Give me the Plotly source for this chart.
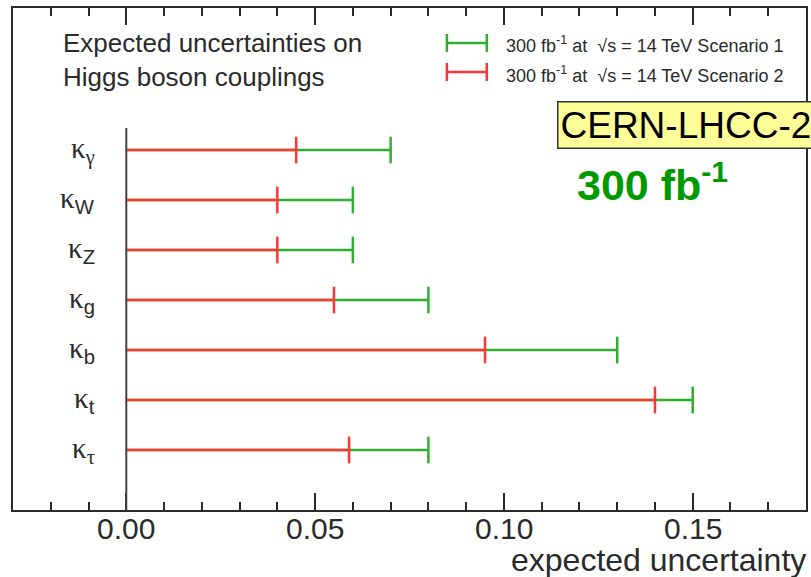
import plotly.graph_objects as go

# Higgs couplings (top to bottom) and their expected relative uncertainties
couplings = ["gamma", "W", "Z", "g", "b", "t", "tau"]
coupling_labels = [
    "κ<sub>γ</sub>",
    "κ<sub><span style='font-family:Liberation Sans'>W</span></sub>",
    "κ<sub><span style='font-family:Liberation Sans'>Z</span></sub>",
    "κ<sub><span style='font-family:Liberation Sans'>g</span></sub>",
    "κ<sub><span style='font-family:Liberation Sans'>b</span></sub>",
    "κ<sub><span style='font-family:Liberation Sans'>t</span></sub>",
    "κ<sub>τ</sub>",
]
scenario1 = [0.070, 0.060, 0.060, 0.080, 0.130, 0.150, 0.080]
scenario2 = [0.045, 0.040, 0.040, 0.055, 0.095, 0.140, 0.059]

x_ticks = [0.00, 0.05, 0.10, 0.15]
x_minor_step = 0.01
legend_texts = [
    "300 fb<sup>-1</sup> at  √s = 14 TeV Scenario 1",
    "300 fb<sup>-1</sup> at  √s = 14 TeV Scenario 2",
]

GREEN = "#2fae2f"
RED = "#ff3535"
INK = "#2a2a2a"
SANS = "Liberation Sans, Arial, sans-serif"
SERIF = "Liberation Serif, Times New Roman, serif"

W, H = 811, 577
L, R, T, B = 13, 808, 8, 510  # plot-area edges in pixels
X_RANGE = [-0.03, 0.18]
MAJOR_LEN, MINOR_LEN = 17, 8


def px(x):
    return (x - L) / (R - L)


def py(y):
    return (B - y) / (B - T)


fig = go.Figure()


def add_series(values, color):
    xs, ys = [], []
    for c, v in zip(couplings, values):
        xs += [0, v, None]
        ys += [c, c, None]
    fig.add_trace(go.Scatter(x=xs, y=ys, mode="lines",
                             line=dict(color=color, width=2.5),
                             hoverinfo="skip", showlegend=False))
    fig.add_trace(go.Scatter(x=values, y=couplings, mode="markers",
                             marker=dict(symbol="line-ns", size=19,
                                         line=dict(color=color, width=2.5)),
                             showlegend=False))


add_series(scenario1, GREEN)
add_series(scenario2, RED)

shapes = []
# vertical reference line at zero
shapes.append(dict(type="line", xref="x", yref="paper", x0=0, x1=0,
                   y0=0, y1=py(128), line=dict(color="#444", width=2)))

# legend glyphs (error-bar style)
for yy, col in [(43, GREEN), (72, RED)]:
    shapes.append(dict(type="line", xref="paper", yref="paper",
                       x0=px(448), x1=px(488), y0=py(yy), y1=py(yy),
                       line=dict(color=col, width=2.5)))
    for xx in (448, 488):
        shapes.append(dict(type="line", xref="paper", yref="paper",
                           x0=px(xx), x1=px(xx), y0=py(yy - 9), y1=py(yy + 9),
                           line=dict(color=col, width=2.5)))

annotations = []
for c, lab in zip(couplings, coupling_labels):
    annotations.append(dict(x=-0.0078, y=c, xref="x", yref="y", text=lab,
                            xanchor="right", yanchor="middle", showarrow=False,
                            font=dict(family=SERIF, size=29, color=INK)))

# x tick labels
for t in x_ticks:
    annotations.append(dict(x=t, y=py(528), xref="x", yref="paper",
                            text=f"{t:.2f}", xanchor="center",
                            yanchor="middle", showarrow=False,
                            font=dict(family=SANS, size=30, color=INK)))

annotations.append(dict(x=px(61), y=py(60), xref="paper", yref="paper",
                        text="Expected uncertainties on<br>Higgs boson couplings",
                        xanchor="left", yanchor="middle", align="left",
                        showarrow=False,
                        font=dict(family=SANS, size=26, color=INK)))

for yy, txt in zip((44, 74), legend_texts):
    annotations.append(dict(x=px(505), y=py(yy), xref="paper", yref="paper",
                            text=txt, xanchor="left", yanchor="middle",
                            showarrow=False,
                            font=dict(family=SANS, size=18, color=INK)))

annotations.append(dict(x=px(558), y=py(125), xref="paper", yref="paper",
                        text="CERN-LHCC-2", xanchor="left",
                        yanchor="middle", showarrow=False,
                        bgcolor="#ffff99", bordercolor="#333", borderwidth=1.5,
                        borderpad=2,
                        font=dict(family=SANS, size=37, color="black")))

annotations.append(dict(x=px(576), y=py(182), xref="paper", yref="paper",
                        text="<b>300 fb<sup>-1</sup></b>", xanchor="left",
                        yanchor="middle", showarrow=False,
                        font=dict(family=SANS, size=43, color="#009a00")))

annotations.append(dict(x=px(810), y=py(560), xref="paper", yref="paper",
                        text="expected uncertainty", xanchor="right",
                        yanchor="middle", showarrow=False,
                        font=dict(family=SANS, size=32, color=INK)))

fig.update_layout(
    width=W, height=H,
    margin=dict(l=L, r=W - R, t=T, b=H - B),
    paper_bgcolor="white", plot_bgcolor="white",
    shapes=shapes, annotations=annotations,
    xaxis=dict(range=X_RANGE, tickvals=x_ticks, showticklabels=False,
               ticks="inside", ticklen=MAJOR_LEN, tickwidth=1.5, tickcolor=INK,
               minor=dict(dtick=x_minor_step, tick0=0, ticks="inside",
                          ticklen=MINOR_LEN, tickwidth=1.5, tickcolor=INK,
                          showgrid=False),
               showline=True, linewidth=2, linecolor=INK, mirror="allticks",
               showgrid=False, zeroline=False),
    yaxis=dict(type="category", categoryarray=couplings,
               range=[7.2, -2.84], showticklabels=False, ticks="",
               showline=True, linewidth=2, linecolor=INK, mirror=True,
               showgrid=False, zeroline=False),
)

fig.write_html("out.html")
